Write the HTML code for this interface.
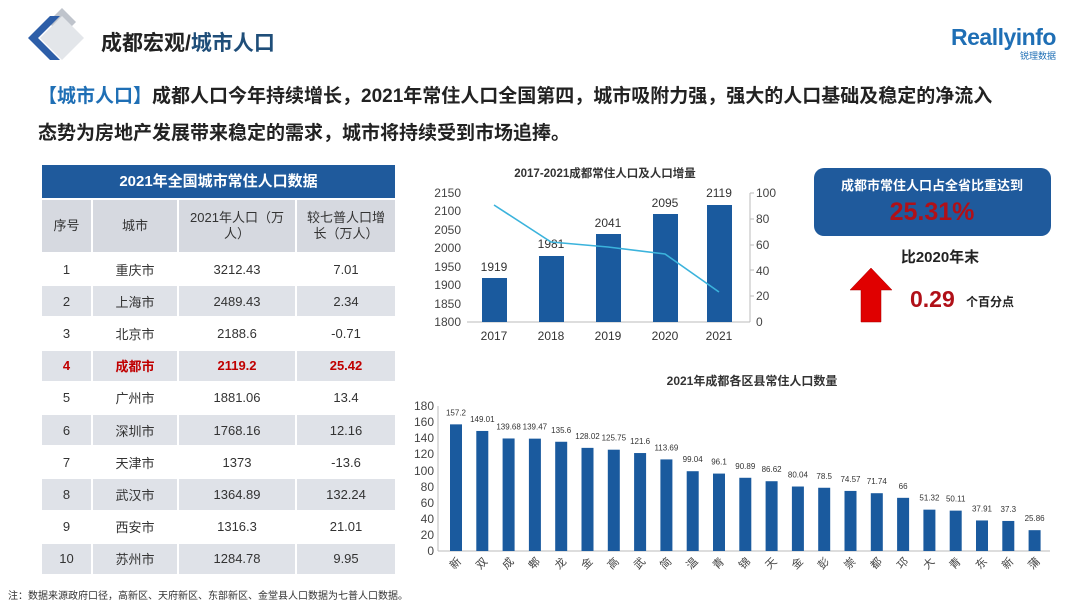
<!DOCTYPE html>
<html><head><meta charset="utf-8"><style>
*{margin:0;padding:0;box-sizing:border-box}
body{width:1080px;height:608px;background:#fff;position:relative;overflow:hidden;font-family:"Liberation Sans","Noto Sans CJK SC",sans-serif}
.abs{position:absolute}
table{border-collapse:separate;border-spacing:2px 2px;position:absolute;left:40px;top:198px;width:357px;font-size:13px;color:#333;text-align:center}
td{height:30.2px;background:#fff}
tr.g td{background:#dfe2e8}
tr.h td{background:#d6d9e0;height:52px;line-height:16px}
tr.r td{color:#c00000;font-weight:bold}
</style></head><body>
<svg class="abs" style="left:0;top:0" width="140" height="80">
<polygon points="48,22 62,8 76,22 62,36" fill="#bfc4cc"/>
<polygon points="28,38 50,16 60,16 38,38 60,60 50,60" fill="#2d5ea8"/>
<polygon points="40,38 62,16 84,38 62,60" fill="#e3e6ea"/>
</svg>
<div class="abs" style="left:101px;top:27px;font-size:21px;font-weight:bold;color:#222">成都宏观/<span style="color:#1f4e79">城市人口</span></div>
<div class="abs" style="left:951px;top:24px;font-size:23px;font-weight:bold;color:#1f6fb5;letter-spacing:-0.5px">Reallyinfo</div>
<div class="abs" style="left:1020px;top:49px;font-size:9px;color:#1f6fb5">锐理数据</div>
<div class="abs" style="left:38px;top:78px;font-size:19px;font-weight:bold;color:#222;line-height:37px;width:1040px">
<span style="color:#1f6fb5">【城市人口】</span>成都人口今年持续增长，2021年常住人口全国第四，城市吸附力强，强大的人口基础及稳定的净流入<br>态势为房地产发展带来稳定的需求，城市将持续受到市场追捧。</div>

<div class="abs" style="left:42px;top:165px;width:353px;height:33px;background:#1f5a9c;color:#fff;font-weight:bold;font-size:15px;text-align:center;line-height:33px">2021年全国城市常住人口数据</div>
<table>
<colgroup><col style="width:49px"><col style="width:84px"><col style="width:116px"><col></colgroup>
<tr class="h"><td>序号</td><td>城市</td><td>2021年人口（万<br>人）</td><td>较七普人口增<br>长（万人）</td></tr>
<tr><td>1</td><td>重庆市</td><td>3212.43</td><td>7.01</td></tr>
<tr class="g"><td>2</td><td>上海市</td><td>2489.43</td><td>2.34</td></tr>
<tr><td>3</td><td>北京市</td><td>2188.6</td><td>-0.71</td></tr>
<tr class="g r"><td>4</td><td>成都市</td><td>2119.2</td><td>25.42</td></tr>
<tr><td>5</td><td>广州市</td><td>1881.06</td><td>13.4</td></tr>
<tr class="g"><td>6</td><td>深圳市</td><td>1768.16</td><td>12.16</td></tr>
<tr><td>7</td><td>天津市</td><td>1373</td><td>-13.6</td></tr>
<tr class="g"><td>8</td><td>武汉市</td><td>1364.89</td><td>132.24</td></tr>
<tr><td>9</td><td>西安市</td><td>1316.3</td><td>21.01</td></tr>
<tr class="g"><td>10</td><td>苏州市</td><td>1284.78</td><td>9.95</td></tr>
</table>
<div class="abs" style="left:8px;top:587px;font-size:10px;color:#333">注：数据来源政府口径，高新区、天府新区、东部新区、金堂县人口数据为七普人口数据。</div>

<svg class="abs" style="left:0;top:0" width="1080" height="608" font-family="Liberation Sans, Noto Sans CJK SC, sans-serif">
<text x="605" y="177" font-size="11.5" font-weight="bold" text-anchor="middle" fill="#333">2017-2021成都常住人口及人口增量</text>
<g font-size="12" fill="#444" text-anchor="end">
<text x="461" y="197">2150</text><text x="461" y="215">2100</text><text x="461" y="234">2050</text><text x="461" y="252">2000</text><text x="461" y="271">1950</text><text x="461" y="289">1900</text><text x="461" y="308">1850</text><text x="461" y="326">1800</text>
</g>
<g font-size="12" fill="#444">
<text x="756" y="197">100</text><text x="756" y="223">80</text><text x="756" y="249">60</text><text x="756" y="275">40</text><text x="756" y="300">20</text><text x="756" y="326">0</text>
</g>
<line x1="467" y1="322" x2="750" y2="322" stroke="#bbb"/>
<line x1="750" y1="193" x2="750" y2="322" stroke="#bbb"/>
<g stroke="#bbb"><line x1="750" y1="193" x2="754" y2="193"/><line x1="750" y1="219" x2="754" y2="219"/><line x1="750" y1="245" x2="754" y2="245"/><line x1="750" y1="270" x2="754" y2="270"/><line x1="750" y1="296" x2="754" y2="296"/></g>
<g fill="#1a5a9e">
<rect x="482" y="278" width="25" height="44"/>
<rect x="539" y="256" width="25" height="66"/>
<rect x="596" y="234" width="25" height="88"/>
<rect x="653" y="214" width="25" height="108"/>
<rect x="707" y="205" width="25" height="117"/>
</g>
<g font-size="12" fill="#333" text-anchor="middle">
<text x="494" y="271">1919</text><text x="551" y="248">1981</text><text x="608" y="227">2041</text><text x="665" y="207">2095</text><text x="719" y="197">2119</text>
<text x="494" y="340">2017</text><text x="551" y="340">2018</text><text x="608" y="340">2019</text><text x="665" y="340">2020</text><text x="719" y="340">2021</text>
</g>
<polyline points="494,205 551,242 608,247 665,254 719,292" fill="none" stroke="#3bb3dc" stroke-width="1.6"/>

<rect x="814" y="168" width="237" height="68" rx="10" fill="#1f5a9c"/>
<text x="932" y="190" font-size="13" font-weight="bold" fill="#fff" text-anchor="middle">成都市常住人口占全省比重达到</text>
<text x="932" y="220" font-size="25" font-weight="bold" fill="#b01018" text-anchor="middle">25.31%</text>
<text x="940" y="262" font-size="15" font-weight="bold" fill="#222" text-anchor="middle">比2020年末</text>
<polygon points="871,268 892,290 881,290 881,322 861,322 861,290 850,290" fill="#e00000" stroke="#a00" stroke-width="0.5"/>
<text x="910" y="307" font-size="23" font-weight="bold" fill="#b01018">0.29</text>
<text x="966" y="306" font-size="12" font-weight="bold" fill="#222">个百分点</text>

<text x="752" y="385" font-size="12" font-weight="bold" fill="#333" text-anchor="middle">2021年成都各区县常住人口数量</text>
<g font-size="12" fill="#444" text-anchor="end">
<text x="434" y="410">180</text><text x="434" y="426">160</text><text x="434" y="442">140</text><text x="434" y="458">120</text><text x="434" y="475">100</text><text x="434" y="491">80</text><text x="434" y="507">60</text><text x="434" y="523">40</text><text x="434" y="539">20</text><text x="434" y="555">0</text>
</g>
<line x1="438" y1="406" x2="438" y2="551" stroke="#bbb"/>
<line x1="438" y1="551" x2="1050" y2="551" stroke="#bbb"/>
<g id="bars"></g>
</svg>
<script>
var v=[157.2,149.01,139.68,139.47,135.6,128.02,125.75,121.6,113.69,99.04,96.1,90.89,86.62,80.04,78.5,74.57,71.74,66,51.32,50.11,37.91,37.3,25.86];
var n="新双成郫龙金高武简温青锦天金彭崇都邛大青东新蒲";
var s='';
for(var i=0;i<v.length;i++){var cx=456+i*26.3,h=v[i]*0.8056;
s+='<rect x="'+(cx-6)+'" y="'+(551-h)+'" width="12" height="'+h+'" fill="#1a5a9e"/>';
s+='<text x="'+cx+'" y="'+(551-h-9)+'" font-size="8" fill="#333" text-anchor="middle">'+v[i]+'</text>';
s+='<text transform="translate('+(cx+2)+',566) rotate(-45)" font-size="11" fill="#444" text-anchor="middle">'+n[i]+'</text>';}
document.getElementById('bars').innerHTML=s;
</script>
</body></html>
